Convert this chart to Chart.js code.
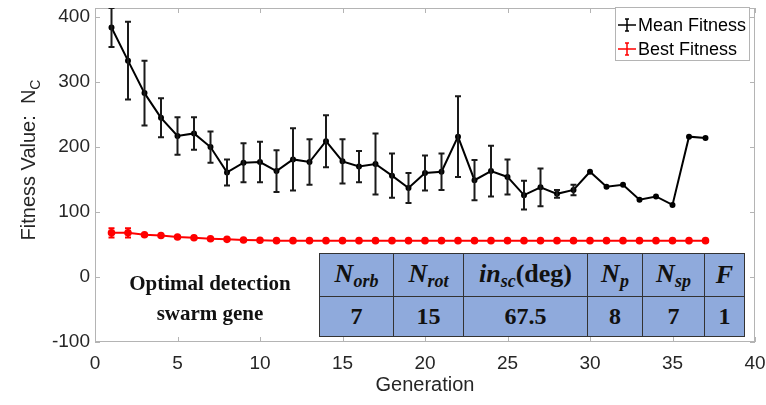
<!DOCTYPE html>
<html>
<head>
<meta charset="utf-8">
<script src="https://cdn.jsdelivr.net/npm/chart.js@4.4.0/dist/chart.umd.min.js"></script>
<style>
  html, body { margin: 0; padding: 0; background: #fff; }
  #wrap { position: relative; width: 766px; height: 405px; }
  #gene {
    position: absolute; left: 110px; top: 268px; width: 200px;
    text-align: center; font: bold 21px 'Liberation Serif', serif;
    line-height: 30px; color: #111;
  }
  #gene-table {
    position: absolute; left: 319px; top: 253px; width: 425px; height: 83px;
    border-collapse: collapse; table-layout: fixed; background: #8faadc;
    font-family: 'Liberation Serif', serif; font-weight: bold; color: #111;
  }
  #gene-table td { border: 1.5px solid #333; text-align: center; padding: 0; white-space: nowrap; }
  #gene-table tr.head td { height: 42px; font-size: 26px; font-style: italic; }
  #gene-table tr.vals td { height: 39px; font-size: 24px; }
  #gene-table sub { font-size: 18px; vertical-align: -5px; }
  #gene-table .up { font-style: normal; }
</style>
</head>
<body>
<div id="wrap">
  <canvas id="fitness-chart" width="766" height="405"></canvas>
  <div id="gene">Optimal detection<br>swarm gene</div>
  <table id="gene-table"></table>
</div>
<script>
// Fitness per generation
const generations = [1, 2, 3, 4, 5, 6, 7, 8, 9, 10, 11, 12, 13, 14, 15, 16, 17, 18, 19,
  20, 21, 22, 23, 24, 25, 26, 27, 28, 29, 30, 31, 32, 33, 34, 35, 36, 37];
const meanFitness = [384, 333, 283, 245, 217, 221, 200, 161, 176, 177, 163, 181, 177, 209,
  178, 170, 174, 156, 137, 160, 162, 216, 149, 163, 154, 126, 138, 128, 134, 162, 139,
  142, 119, 124, 111, 216, 214];
const meanError = [30, 60, 50, 30, 29, 25, 24, 20, 30, 31, 32, 48, 35, 40, 34, 24, 47, 34,
  23, 27, 28, 62, 31, 39, 27, 22, 29, 6, 8, 0, 0, 0, 0, 0, 0, 0, 0];
const bestFitness = [68, 68, 65, 64, 61.5, 60.5, 59, 58, 57, 56.5, 56, 56, 56, 56, 56, 56,
  56, 56, 56, 56, 56, 56, 56, 56, 56, 56, 56, 56, 56, 56, 56, 56, 56, 56, 56, 56, 56];
const bestError = [7, 7, 0, 0, 0, 0, 0, 0, 0, 0, 0, 0, 0, 0, 0, 0, 0, 0, 0, 0, 0, 0, 0, 0,
  0, 0, 0, 0, 0, 0, 0, 0, 0, 0, 0, 0, 0];

// Axis ticks
const xTickValues = [0, 5, 10, 15, 20, 25, 30, 35, 40];
const yTickValues = [-100, 0, 100, 200, 300, 400];

// Gene table
const geneHeaders = [['N', 'orb'], ['N', 'rot'], ['in', 'sc', '(deg)'], ['N', 'p'], ['N', 'sp'], ['F']];
const geneValues = ['7', '15', '67.5', '8', '7', '1'];
const geneColWidths = [74, 70, 124, 55, 62, 40];

const AXIS_GRAY = '#b4b4b4';
const TEXT_COLOR = '#262626';
const SANS = '"Liberation Sans", Arial, sans-serif';

// Build the gene table
const table = document.getElementById('gene-table');
const colgroup = document.createElement('colgroup');
geneColWidths.forEach(w => {
  const col = document.createElement('col');
  col.style.width = w + 'px';
  colgroup.appendChild(col);
});
table.appendChild(colgroup);
const headRow = table.insertRow();
headRow.className = 'head';
geneHeaders.forEach(h => {
  const td = headRow.insertCell();
  let html = h[0];
  if (h[1]) html += '<sub>' + h[1] + '</sub>';
  if (h[2]) html += '<span class="up">' + h[2] + '</span>';
  td.innerHTML = html;
});
const valRow = table.insertRow();
valRow.className = 'vals';
geneValues.forEach(v => {
  const td = valRow.insertCell();
  td.textContent = v;
});

// Box around the axes with inward MATLAB-style ticks
const boxPlugin = {
  id: 'matlabBox',
  beforeDatasetsDraw(chart) {
    const { ctx, chartArea: a, scales: { x, y } } = chart;
    const tl = 5;
    ctx.save();
    ctx.strokeStyle = AXIS_GRAY;
    ctx.lineWidth = 1;
    ctx.strokeRect(a.left + 0.5, a.top + 0.5, a.right - a.left - 1, a.bottom - a.top - 1);
    ctx.beginPath();
    x.ticks.forEach(t => {
      const px = Math.round(x.getPixelForValue(t.value)) + 0.5;
      ctx.moveTo(px, a.bottom); ctx.lineTo(px, a.bottom - tl);
      ctx.moveTo(px, a.top); ctx.lineTo(px, a.top + tl);
    });
    y.ticks.forEach(t => {
      const py = Math.round(y.getPixelForValue(t.value)) + 0.5;
      ctx.moveTo(a.left, py); ctx.lineTo(a.left + tl, py);
      ctx.moveTo(a.right, py); ctx.lineTo(a.right - tl, py);
    });
    ctx.stroke();
    ctx.restore();
  }
};

// Vertical error bars with caps
const errorBarPlugin = {
  id: 'errorBars',
  afterDatasetsDraw(chart) {
    const { ctx, chartArea: a, scales: { x, y } } = chart;
    ctx.save();
    ctx.beginPath();
    ctx.rect(a.left, a.top, a.right - a.left, a.bottom - a.top);
    ctx.clip();
    chart.data.datasets.forEach(ds => {
      if (!ds.errors) return;
      ctx.strokeStyle = ds.errorColor;
      ctx.lineWidth = 2;
      ds.data.forEach((p, i) => {
        const e = ds.errors[i];
        if (!e) return;
        const px = x.getPixelForValue(p.x);
        const top = y.getPixelForValue(p.y + e);
        const bot = y.getPixelForValue(p.y - e);
        ctx.beginPath();
        ctx.moveTo(px, top); ctx.lineTo(px, bot);
        ctx.moveTo(px - 3, top); ctx.lineTo(px + 3, top);
        ctx.moveTo(px - 3, bot); ctx.lineTo(px + 3, bot);
        ctx.stroke();
      });
    });
    ctx.restore();
  }
};

// Rotated y-axis title with subscript, and MATLAB-like legend box
const decorPlugin = {
  id: 'decor',
  afterDraw(chart) {
    const { ctx, chartArea: a } = chart;
    // y title
    ctx.save();
    ctx.translate(28, 160);
    ctx.rotate(-Math.PI / 2);
    ctx.fillStyle = TEXT_COLOR;
    ctx.textBaseline = 'alphabetic';
    ctx.font = '20px ' + SANS;
    const main = 'Fitness Value:  N';
    const w1 = ctx.measureText(main).width;
    ctx.font = '14px ' + SANS;
    const w2 = ctx.measureText('C').width;
    const x0 = -(w1 + w2) / 2;
    ctx.font = '20px ' + SANS;
    ctx.fillText(main, x0, 7);
    ctx.font = '14px ' + SANS;
    ctx.fillText('C', x0 + w1, 12);
    ctx.restore();

    // legend
    const bw = 135, bh = 54;
    const bx = a.right - 5 - bw, by = a.top - 1;
    ctx.save();
    ctx.fillStyle = '#fff';
    ctx.fillRect(bx, by, bw, bh);
    ctx.strokeStyle = AXIS_GRAY;
    ctx.lineWidth = 1;
    ctx.strokeRect(bx + 0.5, by + 0.5, bw - 1, bh - 1);
    ctx.font = '18px ' + SANS;
    ctx.textBaseline = 'middle';
    chart.data.datasets.forEach((ds, i) => {
      const cy = by + 18 + i * 24;
      const sx = bx + 3;
      ctx.strokeStyle = ds.borderColor;
      ctx.lineWidth = 1.5;
      ctx.beginPath();
      ctx.moveTo(sx, cy); ctx.lineTo(sx + 18, cy);
      ctx.moveTo(sx + 9, cy - 6); ctx.lineTo(sx + 9, cy + 6);
      ctx.moveTo(sx + 7, cy - 6); ctx.lineTo(sx + 11, cy - 6);
      ctx.moveTo(sx + 7, cy + 6); ctx.lineTo(sx + 11, cy + 6);
      ctx.stroke();
      ctx.fillStyle = '#000';
      ctx.fillText(ds.label, sx + 20, cy + 1);
    });
    ctx.restore();
  }
};

const ctx = document.getElementById('fitness-chart').getContext('2d');
new Chart(ctx, {
  type: 'line',
  data: {
    datasets: [
      {
        label: 'Mean Fitness',
        data: generations.map((g, i) => ({ x: g, y: meanFitness[i] })),
        errors: meanError,
        errorColor: '#1a1a1a',
        borderColor: '#000000',
        backgroundColor: '#000000',
        borderWidth: 2,
        pointRadius: 2,
        pointHoverRadius: 2,
        tension: 0
      },
      {
        label: 'Best Fitness',
        data: generations.map((g, i) => ({ x: g, y: bestFitness[i] })),
        errors: bestError,
        errorColor: '#ff0000',
        borderColor: '#ff0000',
        backgroundColor: '#ff0000',
        borderWidth: 2,
        pointRadius: 2.8,
        pointHoverRadius: 2.8,
        tension: 0
      }
    ]
  },
  options: {
    responsive: false,
    animation: false,
    devicePixelRatio: 1,
    layout: { padding: { top: 8, right: 11, bottom: 0, left: 0 } },
    plugins: {
      legend: { display: false },
      tooltip: { enabled: false }
    },
    scales: {
      x: {
        type: 'linear',
        min: 0,
        max: 40,
        grid: { display: false, drawTicks: false },
        border: { display: false },
        ticks: { padding: 10, color: TEXT_COLOR, font: { family: SANS, size: 19 } },
        afterBuildTicks: (scale) => {
          scale.ticks = xTickValues.map(v => ({ value: v }));
        },
        title: {
          display: true,
          text: 'Generation',
          color: TEXT_COLOR,
          font: { family: SANS, size: 20 },
          padding: { top: 0, bottom: 8 }
        },
        afterFit: (scale) => {
          scale.height = 63;
          scale.paddingLeft = 0;
          scale.paddingRight = 0;
        }
      },
      y: {
        min: -100,
        max: 414,
        grid: { display: false, drawTicks: false },
        border: { display: false },
        ticks: { padding: 5, color: TEXT_COLOR, font: { family: SANS, size: 19 } },
        afterBuildTicks: (scale) => {
          scale.ticks = yTickValues.map(v => ({ value: v }));
        },
        afterFit: (scale) => {
          scale.width = 95;
          scale.paddingTop = 0;
          scale.paddingBottom = 0;
        }
      }
    }
  },
  plugins: [boxPlugin, errorBarPlugin, decorPlugin]
});
</script>
</body>
</html>
